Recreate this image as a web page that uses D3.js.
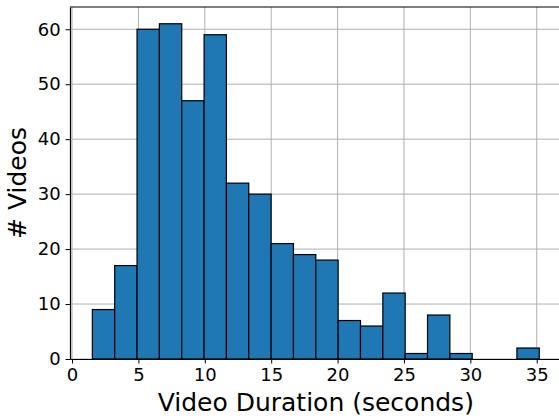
<!DOCTYPE html>
<html>
<head>
<meta charset="utf-8">
<script src="https://cdn.jsdelivr.net/npm/d3@7"></script>
<style>
  body { margin: 0; background: #fff; }
  text { font-family: "DejaVu Sans", sans-serif; fill: #000; }
</style>
</head>
<body>
<div id="chart"></div>
<script>
// histogram of video durations: 20 equal bins
const binStart = 1.53;
const binWidth = 1.683;
const counts = [9, 17, 60, 61, 47, 59, 32, 30, 21, 19, 18, 7, 6, 12, 1, 8, 1, 0, 0, 2];
const xTicks = [0, 5, 10, 15, 20, 25, 30, 35];
const yTicks = [0, 10, 20, 30, 40, 50, 60];

const width = 559, height = 420;
const mLeft = 70, mTop = 7, mBottom = 359, mRight = 561.6;

const svg = d3.select("#chart").append("svg")
  .attr("width", width)
  .attr("height", height);

const binEnd = binStart + binWidth * counts.length;
const pad = (binEnd - binStart) * 0.05;
const x = d3.scaleLinear().domain([binStart - pad, binEnd + pad]).range([mLeft, mRight]);
const y = d3.scaleLinear().domain([0, d3.max(counts) * 1.05]).range([mBottom, mTop]);

// grid below bars
const grid = svg.append("g").attr("stroke", "#b0b0b0").attr("stroke-width", 1);
grid.selectAll(".gx").data(xTicks).enter().append("line")
  .attr("x1", d => x(d)).attr("x2", d => x(d))
  .attr("y1", mTop).attr("y2", mBottom);
grid.selectAll(".gy").data(yTicks).enter().append("line")
  .attr("x1", mLeft).attr("x2", mRight)
  .attr("y1", d => y(d)).attr("y2", d => y(d));

// bars
svg.append("g")
  .selectAll("rect")
  .data(counts)
  .enter()
  .append("rect")
  .attr("x", (d, i) => x(binStart + i * binWidth))
  .attr("width", x(binStart + binWidth) - x(binStart))
  .attr("y", d => y(d))
  .attr("height", d => y(0) - y(d))
  .attr("fill", "#1f77b4")
  .attr("stroke", "#000")
  .attr("stroke-width", 1.2);

// axes
const xAxis = svg.append("g")
  .attr("transform", `translate(0,${mBottom})`)
  .call(d3.axisBottom(x).tickValues(xTicks).tickSize(4.5).tickPadding(5).tickSizeOuter(0));
const yAxis = svg.append("g")
  .attr("transform", `translate(${mLeft},0)`)
  .call(d3.axisLeft(y).tickValues(yTicks).tickSize(4.5).tickPadding(4.8).tickSizeOuter(0));
[xAxis, yAxis].forEach(a => {
  a.select(".domain").attr("stroke", "#000").attr("stroke-width", 1.2);
  a.selectAll(".tick line").attr("stroke", "#000");
  a.selectAll(".tick text").style("font-size", "18px").attr("fill", "#000");
});

// top spine (right spine falls outside the window)
svg.append("line")
  .attr("x1", mLeft).attr("x2", mRight)
  .attr("y1", mTop).attr("y2", mTop)
  .attr("stroke", "#000").attr("stroke-width", 1.2);

// axis labels
svg.append("text")
  .attr("x", (mLeft + mRight) / 2)
  .attr("y", 411)
  .attr("text-anchor", "middle")
  .style("font-size", "25px")
  .text("Video Duration (seconds)");

svg.append("text")
  .attr("transform", `translate(26,${(mTop + mBottom) / 2}) rotate(-90)`)
  .attr("text-anchor", "middle")
  .style("font-size", "25px")
  .text("# Videos");
</script>
</body>
</html>
